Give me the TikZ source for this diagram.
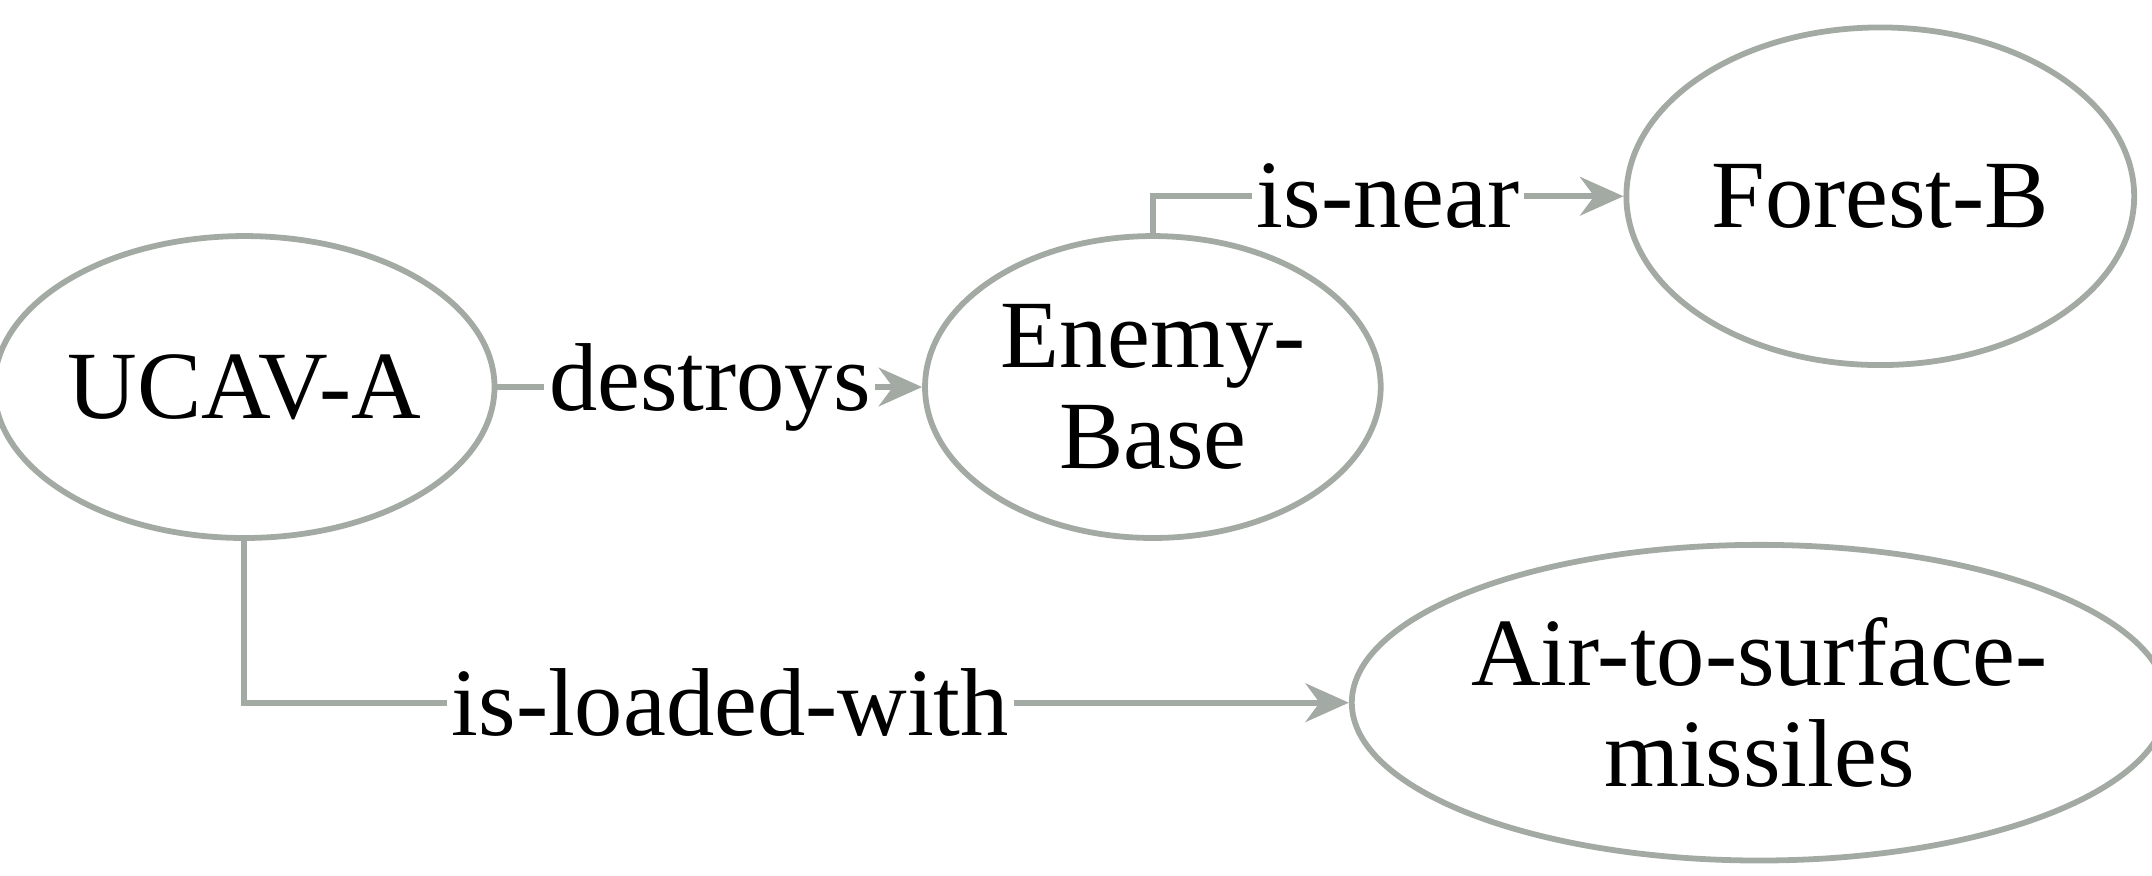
\documentclass[tikz,border=0pt]{standalone}
\usepackage{fontspec}
\setmainfont{Liberation Serif}
\usetikzlibrary{shapes.geometric,arrows.meta}
\definecolor{linegray}{HTML}{A3AAA3}
\tikzset{
  concept/.style={draw=linegray, ellipse, line width=1.2pt, inner sep=0pt, align=center,
    font=\fontsize{20}{21}\selectfont},
  relation/.style={draw=linegray, line width=1.3pt, -{Stealth[length=9pt,width=8pt]}},
  rlabel/.style={fill=white, inner sep=1pt, font=\fontsize{20}{21}\selectfont}
}
\begin{document}
\begin{tikzpicture}
\useasboundingbox (0,0) rectangle (15.68,6.38);
\node[concept, minimum width=3.26cm, minimum height=2.2cm] (ucav) at (1.78,3.56) {UCAV-A};
\node[concept, minimum width=3.32cm, minimum height=2.2cm] (base) at (8.40,3.56) {Enemy-\\Base};
\node[concept, minimum width=3.7cm, minimum height=2.46cm] (forest) at (13.70,4.95) {Forest-B};
\node[concept, minimum width=5.0cm, minimum height=2.3cm] (missile) at (12.82,1.26) {Air-to-surface-\\missiles};

\path[relation] (ucav) -- node[rlabel] {destroys} (base);
\path[relation] (base.north) |- node[rlabel, pos=0.75] {is-near} (forest.west);
\path[relation] (ucav.south) |- node[rlabel, pos=0.72] {is-loaded-with} (missile.west);
\end{tikzpicture}
\end{document}
